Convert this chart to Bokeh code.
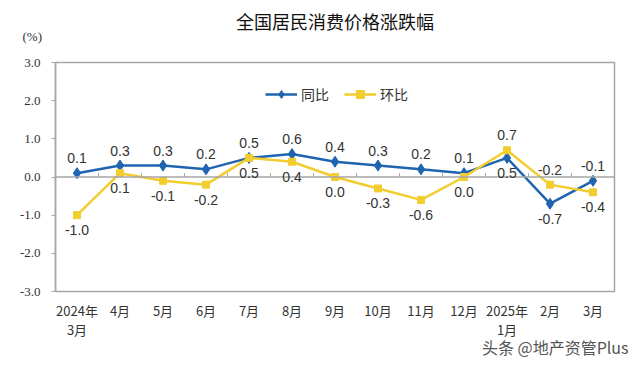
from bokeh.plotting import figure
from bokeh.models import ColumnDataSource, LabelSet, Legend, LegendItem, Span, FixedTicker, PrintfTickFormatter, Title
from bokeh.core.properties import value
from bokeh.embed import file_html
from bokeh.resources import INLINE

# ---- data ----
months = ["2024年\n3月", "4月", "5月", "6月", "7月", "8月", "9月", "10月", "11月", "12月", "2025年\n1月", "2月", "3月"]
yoy = [0.1, 0.3, 0.3, 0.2, 0.5, 0.6, 0.4, 0.3, 0.2, 0.1, 0.5, -0.7, -0.1]
mom = [-1.0, 0.1, -0.1, -0.2, 0.5, 0.4, 0.0, -0.3, -0.6, 0.0, 0.7, -0.2, -0.4]
y_ticks = [-3, -2, -1, 0, 1, 2, 3]
series_names = ["同比", "环比"]
title_text = "全国居民消费价格涨跌幅"
unit_text = "(%)"
source_text = "头条 @地产资管Plus"

# ---- styles ----
BLUE = "#1f64b0"
YELLOW = "#f2cd2e"
GRAY = "#a6a6a6"
TXT = "#333333"
yoy_side = [1, 1, 1, 1, 1, 1, 1, 1, 1, 1, -1, -1, 1]
mom_side = [-1, -1, -1, -1, -1, -1, -1, -1, -1, -1, 1, 1, -1]
OFF = 15

p = figure(width=640, height=367, x_range=months, y_range=(-3, 3),
           output_backend="svg", toolbar_location=None,
           min_border_left=55, min_border_right=26, min_border_top=62, min_border_bottom=76)
p.xgrid.visible = False
p.ygrid.visible = False
p.outline_line_color = GRAY
p.outline_line_width = 1.5
p.background_fill_color = "white"
p.border_fill_color = "white"

# main title (outer) and unit label (closer to the frame)
p.title.text = title_text
p.title.align = "center"
p.title.offset = 4
p.title.standoff = -50
p.title.text_font = "Noto Sans CJK SC"
p.title.text_font_size = "18px"
p.title.text_font_style = "normal"
p.title.text_color = "#111111"
p.add_layout(Title(text=unit_text, align="left", offset=-33, standoff=37,
                   text_font="Liberation Serif", text_font_size="13px",
                   text_font_style="normal", text_color=TXT), "above")

ya = p.yaxis[0]
ya.ticker = FixedTicker(ticks=y_ticks)
ya.formatter = PrintfTickFormatter(format="%.1f")
ya.axis_line_color = GRAY
ya.axis_line_width = 1.5
ya.major_tick_line_color = GRAY
ya.major_tick_out = 4
ya.major_tick_in = 0
ya.minor_tick_line_color = None
ya.major_label_text_font = "Liberation Serif"
ya.major_label_text_font_size = "13px"
ya.major_label_text_color = TXT
ya.major_label_standoff = 11

xa = p.xaxis[0]
xa.axis_line_color = None
xa.major_tick_line_color = None
xa.minor_tick_line_color = None
xa.major_label_text_font = "Noto Sans CJK SC"
xa.major_label_text_font_size = "13px"
xa.major_label_text_line_height = 1.0
xa.major_label_text_color = TXT
xa.major_label_standoff = 3

p.add_layout(Title(text=source_text, align="right", offset=-14, standoff=-13, vertical_align="top",
                   text_font="Noto Sans CJK SC", text_font_size="16px",
                   text_font_style="normal", text_color="#555555"), "below")

# zero line with small ticks between categories
p.add_layout(Span(location=0, dimension="width", line_color=GRAY, line_width=1.5))
bounds = [(m, -0.5) for m in months[1:]]
p.segment(x0=bounds, y0=[0] * len(bounds), x1=bounds, y1=[0.1] * len(bounds),
          line_color=GRAY, line_width=1)

src = ColumnDataSource(dict(
    m=months, yoy=yoy, mom=mom,
    yoy_t=[f"{v:.1f}" for v in yoy], mom_t=[f"{v:.1f}" for v in mom],
    yoy_o=[s * OFF for s in yoy_side], mom_o=[s * OFF for s in mom_side],
))

bl = p.line("m", "yoy", source=src, line_color=BLUE, line_width=2.5)
bs = p.scatter("m", "yoy", source=src, marker="diamond", size=11, fill_color=BLUE, line_color=BLUE)
yl = p.line("m", "mom", source=src, line_color=YELLOW, line_width=2.5)
ys = p.scatter("m", "mom", source=src, marker="square", size=7, fill_color=YELLOW, line_color=YELLOW)

for col, off in (("yoy", "yoy_o"), ("mom", "mom_o")):
    p.add_layout(LabelSet(x="m", y=col, text=col + "_t", source=src, y_offset=off,
                          text_align="center", text_baseline="middle",
                          text_font=value("Liberation Sans"), text_font_size="14px", text_color=TXT))

legend = Legend(items=[LegendItem(label=series_names[0], renderers=[bl, bs]),
                       LegendItem(label=series_names[1], renderers=[yl, ys])],
                orientation="horizontal", location=(210, 187),
                border_line_color=None, background_fill_alpha=0,
                padding=0, margin=0, spacing=15, glyph_width=32, glyph_height=20,
                label_standoff=4, label_text_font="Noto Sans CJK SC",
                label_text_font_size="14px", label_text_color=TXT)
p.add_layout(legend)

open("out.html", "w").write(file_html(p, INLINE))
